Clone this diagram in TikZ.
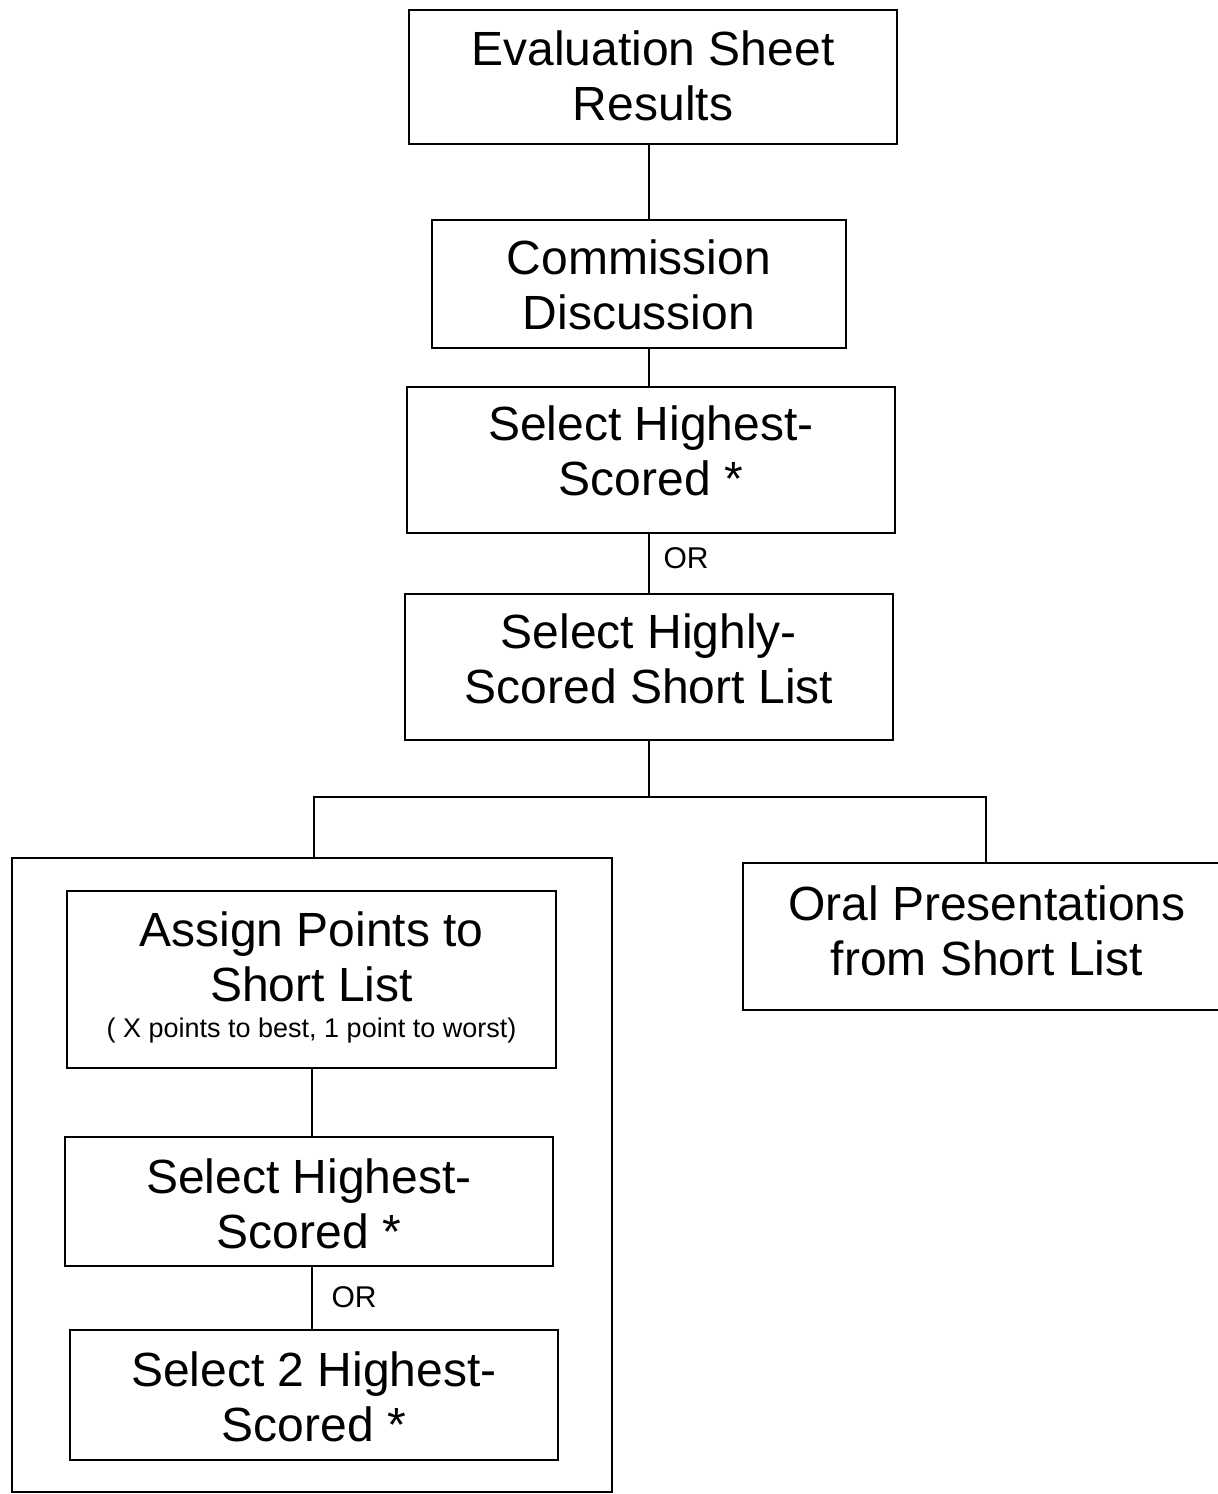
\documentclass[tikz,border=0pt]{standalone}
\usepackage{fontspec}
\setmainfont{Liberation Sans}
\begin{document}
\begin{tikzpicture}[x=0.5pt,y=-0.5pt,
  box/.style={draw, line width=1pt, rectangle, inner sep=0pt},
  txt/.style={align=center, inner sep=0pt, font=\fontsize{24}{27.5}\selectfont},
  conn/.style={draw, line width=1pt},
  orlabel/.style={font=\fontsize{15}{18}\selectfont, inner sep=0pt}]
\useasboundingbox (0,0) rectangle (1218,1494);
\clip (0,0) rectangle (1218,1494);
% main column
\node[box, minimum width=244pt, minimum height=67pt,
  label={[txt, name=evalt, yshift=0.8pt]center:{Evaluation Sheet\\Results}}] (eval) at (653,77) {};
\node[box, minimum width=207pt, minimum height=64pt,
  label={[txt, name=commt, yshift=-0.4pt]center:{Commission\\Discussion}}] (comm) at (639,284) {};
\node[box, minimum width=244pt, minimum height=73pt,
  label={[txt, name=sel1t, yshift=4.5pt]center:{Select Highest-\\Scored *}}] (sel1) at (651,460) {};
\node[box, minimum width=244pt, minimum height=73pt,
  label={[txt, name=shortt, yshift=4.2pt]center:{Select Highly-\\Scored Short List}}] (short) at (649,667) {};
% lower part
\node[box, minimum width=300pt, minimum height=317pt] (outer) at (312,1175) {};
\node[box, minimum width=239.5pt, minimum height=73.5pt,
  label={[txt, name=oralt, yshift=3pt, xshift=2.2pt]center:{Oral Presentations\\from Short List}}] (oral) at (982.5,936.5) {};
\node[box, minimum width=244.5pt, minimum height=88.5pt,
  label={[txt, name=assignt, yshift=1pt]center:{Assign Points to\\Short List\\[-9.5pt]{\fontsize{13.5}{16}\selectfont ( X points to best, 1 point to worst)}}}] (assign) at (311.5,979.5) {};
\node[box, minimum width=244pt, minimum height=64.5pt,
  label={[txt, name=sel2t, yshift=-1pt]center:{Select Highest-\\Scored *}}] (sel2) at (309,1201.5) {};
\node[box, minimum width=244pt, minimum height=65pt,
  label={[txt, name=sel3t, yshift=-1pt]center:{Select 2 Highest-\\Scored *}}] (sel3) at (314,1395) {};
% helper coordinates
\coordinate (spine) at (649,0);
\coordinate (bus) at (0,797);
\coordinate (ld) at (314,0);
\coordinate (rd) at (986,0);
\coordinate (spinein) at (312,0);
% connectors
\draw[conn] (spine |- eval.south) -- (spine |- comm.north);
\draw[conn] (spine |- comm.south) -- (spine |- sel1.north);
\draw[conn] (spine |- sel1.south) -- (spine |- short.north);
\draw[conn] (spine |- short.south) -- (spine |- bus);
\draw[conn] (ld |- outer.north) -- (ld |- bus) -- (rd |- bus) -- (rd |- oral.north);
\draw[conn] (spinein |- assign.south) -- (spinein |- sel2.north);
\draw[conn] (spinein |- sel2.south) -- (spinein |- sel3.north);
% OR labels
\node[orlabel] (or1) at (686,558) {OR};
\node[orlabel] (or2) at (354,1297) {OR};
\end{tikzpicture}
\end{document}
